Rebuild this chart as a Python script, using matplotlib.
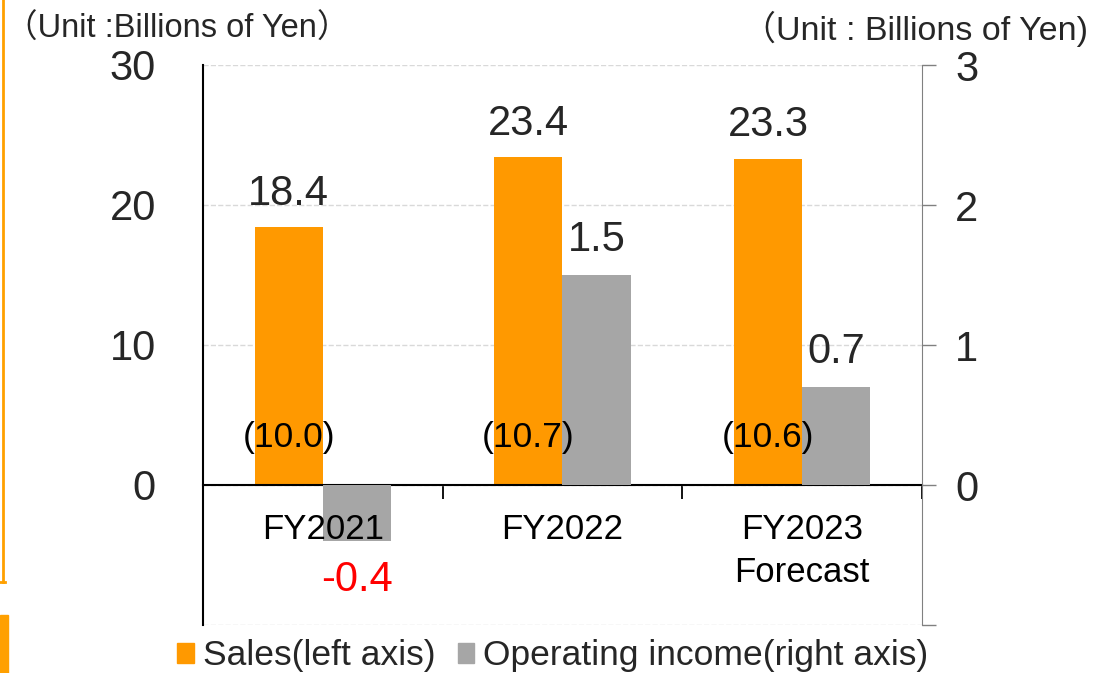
import matplotlib.pyplot as plt
import numpy as np
from matplotlib.patches import Patch, Rectangle
from matplotlib.lines import Line2D

years = ['FY2021', 'FY2022', 'FY2023\nForecast']
sales = [18.4, 23.4, 23.3]
sales_inner = [10.0, 10.7, 10.6]
op_income = [-0.4, 1.5, 0.7]

orange = '#FF9900'
grey = '#A6A6A6'
txt = '#262626'

plt.rcParams['font.family'] = ['Liberation Sans', 'Noto Sans CJK JP', 'DejaVu Sans']

fig = plt.figure(figsize=[10.99, 6.73], dpi=100)
ax = fig.add_axes([203 / 1099, 1 - 625 / 673, 719 / 1099, 560 / 673])
ax2 = ax.twinx()

x = np.arange(len(years))
w = 0.285

ax.bar(x - w / 2, sales, w, color=orange, zorder=2)
ax2.bar(x + w / 2, op_income, w, color=grey, zorder=2)

ax.set_xlim(-0.5, 2.5)
ax.set_ylim(-10, 30)
ax2.set_ylim(-1, 3)

# left axis
ax.set_yticks([-10, 0, 10, 20, 30])
ax.set_yticklabels(['', '0', '10', '20', '30'])
ax.tick_params(axis='y', length=0, pad=34, labelsize=30, labelcolor=txt)
ax.yaxis.grid(True, linestyle='--', color='#D9D9D9', linewidth=1)
ax.set_axisbelow(True)
ax.spines['left'].set_linewidth(1.5)
ax.spines['top'].set_visible(False)
ax.spines['right'].set_visible(False)
ax.spines['bottom'].set_position(('data', 0))
ax.spines['bottom'].set_linewidth(1.5)

# category boundary ticks on the zero line
ax.set_xticks([-0.5, 0.5, 1.5, 2.5])
ax.set_xticklabels([])
ax.tick_params(axis='x', which='major', direction='out', length=10, width=1.3, color='black')

# right axis
ax2.set_yticks([-1, 0, 1, 2, 3])
ax2.set_yticklabels(['', '0', '1', '2', '3'])
ax2.tick_params(axis='y', direction='out', length=10, width=1, color='#808080',
                pad=14, labelsize=30, labelcolor=txt)
ax2.spines['right'].set_color('#808080')
for s in ['left', 'top', 'bottom']:
    ax2.spines[s].set_visible(False)

# category labels, drawn on top of the bars
for xi, name in zip(x, years):
    ax2.annotate(name, (xi, 0), xycoords=ax.transData, xytext=(0, -20),
                 textcoords='offset points', ha='center', va='top', fontsize=25,
                 color='black', linespacing=1.38, zorder=5)

# value labels
for xi, v in zip(x, sales):
    ax.text(xi - w / 2, v + 2.4, f'{v:.1f}', ha='center', va='center', fontsize=30, color=txt)
for xi, v in zip(x, sales_inner):
    ax2.text(xi - w / 2, 3.4, f'({v:.1f})', transform=ax.transData, ha='center',
             va='center', fontsize=25.5, color='black', zorder=5)
for xi, v in zip(x, op_income):
    off = 0.25 if v >= 0 else -0.28
    ax2.text(xi + w / 2, v + off, f'{v:.1f}', ha='center', va='center', fontsize=30,
             color=txt if v >= 0 else '#FF0000', zorder=5)

# unit notes
fig.text(5 / 1099, 1 - 29 / 673, '（Unit :Billions of Yen）', ha='left', va='center',
         fontsize=23.5, color=txt)
fig.text(1088 / 1099, 1 - 29 / 673, '（Unit : Billions of Yen)', ha='right', va='center',
         fontsize=24.5, color=txt)

# legend
handles = [Patch(color=orange), Patch(color=grey)]
fig.legend(handles, ['Sales(left axis)', 'Operating income(right axis)'],
           loc='center', bbox_to_anchor=(553 / 1099, 1 - 656 / 673), ncol=2, frameon=False,
           fontsize=25.5, handlelength=0.46, handleheight=0.46, handletextpad=0.25,
           columnspacing=0.65, labelcolor=txt, borderaxespad=0)

# frame remnants on the left edge
fig.add_artist(Line2D([3 / 1099, 3 / 1099], [1, 1 - 582 / 673], transform=fig.transFigure,
                      color='#FFA000', lw=2))
fig.add_artist(Line2D([0, 5 / 1099], [1 - 582 / 673, 1 - 582 / 673], transform=fig.transFigure,
                      color='#FFA000', lw=2))
fig.add_artist(Rectangle((0, 0), 8 / 1099, 58 / 673, transform=fig.transFigure,
                         color='#FFA000'))

fig.savefig('out.png', dpi=100)
